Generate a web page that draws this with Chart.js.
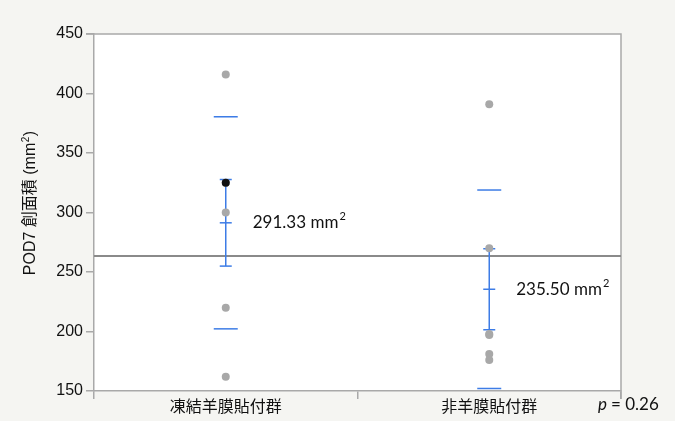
<!DOCTYPE html>
<html>
<head>
<meta charset="utf-8">
<script src="https://cdn.jsdelivr.net/npm/chart.js@4/dist/chart.umd.min.js"></script>
<style>
  html, body { margin: 0; padding: 0; background: #f5f5f2; }
  #wrap { width: 675px; height: 421px; }
</style>
</head>
<body>
<div id="wrap"><canvas id="c" width="675" height="421"></canvas></div>
<script>
// Groups and POD7 wound area values (mm²)
const categories = ['凍結羊膜貼付群', '非羊膜貼付群'];
const frozenAmnion = [416, 325, 300, 220, 162, 325];   // last entry is the highlighted row
const noAmnion = [391, 270, 198, 197, 181, 176];
const yRange = [150, 450];
const yStep = 50;
const pValueText = '0.26';
const highlightIndex = 5;

const groups = [frozenAmnion, noAmnion];

function mean(a) { return a.reduce((s, v) => s + v, 0) / a.length; }
function sd(a) {
  const m = mean(a);
  return Math.sqrt(a.reduce((s, v) => s + (v - m) * (v - m), 0) / (a.length - 1));
}
const grandMean = mean(groups.flat());

const BLUE = '#3d7ce6';
const AXIS = '#a9a9a9';
const NUM_FONT = '"Liberation Sans", Arial, sans-serif';
const LABEL_FONT = 'Lato, "Open Sans", sans-serif';

const backdrop = {
  id: 'backdrop',
  beforeDraw(chart) {
    const { ctx, chartArea: a } = chart;
    ctx.save();
    ctx.fillStyle = '#f5f5f2';
    ctx.fillRect(0, 0, chart.width, chart.height);
    ctx.fillStyle = '#ffffff';
    ctx.fillRect(a.left, a.top, a.right - a.left, a.bottom - a.top);
    ctx.restore();
  }
};

// Grand mean line, std-dev lines and mean error bars
const summaryMarks = {
  id: 'summaryMarks',
  beforeDatasetsDraw(chart) {
    const { ctx, chartArea: a, scales: { x, y } } = chart;
    ctx.save();
    // plot frame (top and right)
    ctx.strokeStyle = AXIS;
    ctx.lineWidth = 1.5;
    ctx.beginPath();
    ctx.moveTo(a.left, a.top);
    ctx.lineTo(a.right, a.top);
    ctx.lineTo(a.right, a.bottom + 8);
    ctx.stroke();
    // extend top edge past the axis like a tick
    ctx.beginPath();
    ctx.moveTo(a.left - 8, a.top);
    ctx.lineTo(a.left, a.top);
    ctx.stroke();

    // grand mean
    const gy = y.getPixelForValue(grandMean);
    ctx.strokeStyle = '#8a8a8a';
    ctx.lineWidth = 2;
    ctx.beginPath();
    ctx.moveTo(a.left, gy);
    ctx.lineTo(a.right, gy);
    ctx.stroke();

    ctx.strokeStyle = BLUE;
    ctx.lineWidth = 1.5;
    groups.forEach((vals, i) => {
      const cx = x.getPixelForValue(i);
      const m = mean(vals);
      const s = sd(vals);
      const se = s / Math.sqrt(vals.length);
      const seg = (v, half) => {
        const py = y.getPixelForValue(v);
        ctx.beginPath();
        ctx.moveTo(cx - half, py);
        ctx.lineTo(cx + half, py);
        ctx.stroke();
      };
      seg(m + s, 12);
      seg(m - s, 12);
      ctx.beginPath();
      ctx.moveTo(cx, y.getPixelForValue(m + se));
      ctx.lineTo(cx, y.getPixelForValue(m - se));
      ctx.stroke();
      seg(m + se, 6);
      seg(m - se, 6);
      seg(m, 6);
    });
    ctx.restore();
  },
  afterDraw(chart) {
    const { ctx, chartArea: a, scales: { x, y } } = chart;
    ctx.save();
    ctx.fillStyle = '#111';
    ctx.textBaseline = 'middle';
    ctx.textAlign = 'left';
    const labelOffsets = [27, 27];
    groups.forEach((vals, i) => {
      const m = mean(vals);
      const px = x.getPixelForValue(i) + labelOffsets[i];
      const py = y.getPixelForValue(m);
      ctx.font = '17px ' + LABEL_FONT;
      const t = m.toFixed(2) + ' mm';
      ctx.fillText(t, px, py);
      const w = ctx.measureText(t).width;
      ctx.font = '11px ' + LABEL_FONT;
      ctx.fillText('2', px + w + 1, py - 6);
    });
    // p value
    const baseY = 405;
    let px = 598;
    ctx.font = 'italic 17px ' + LABEL_FONT;
    ctx.fillText('p', px, baseY);
    px += ctx.measureText('p ').width;
    ctx.font = '17px ' + LABEL_FONT;
    ctx.fillText('= ' + pValueText, px, baseY);

    // y axis title
    ctx.translate(31, 203);
    ctx.rotate(-Math.PI / 2);
    ctx.textAlign = 'left';
    ctx.font = '16px "Liberation Sans", "Noto Sans CJK JP", sans-serif';
    const main = 'POD7 創面積 (mm';
    const mw = ctx.measureText(main).width;
    const tail = ')';
    ctx.font = '10px "Liberation Sans", sans-serif';
    const sw = ctx.measureText('2').width;
    ctx.font = '16px "Liberation Sans", "Noto Sans CJK JP", sans-serif';
    const tw = ctx.measureText(tail).width;
    const total = mw + sw + tw + 1;
    let tx = -total / 2;
    ctx.fillText(main, tx, 0);
    ctx.font = '10px "Liberation Sans", sans-serif';
    ctx.fillText('2', tx + mw + 0.5, -5);
    ctx.font = '16px "Liberation Sans", "Noto Sans CJK JP", sans-serif';
    ctx.fillText(tail, tx + mw + sw + 1, 0);
    ctx.restore();
  }
};

const points = groups.map((vals, gi) => vals.map(v => ({ x: categories[gi], y: v })));

new Chart(document.getElementById('c'), {
  type: 'line',
  data: {
    labels: categories,
    datasets: [
      {
        data: points[0],
        showLine: false,
        pointRadius: 4,
        pointHoverRadius: 4,
        pointBorderWidth: 0,
        pointBackgroundColor: ctx => ctx.dataIndex === highlightIndex ? '#111111' : '#a8a8a8',
        pointBorderColor: 'rgba(0,0,0,0)'
      },
      {
        data: points[1],
        showLine: false,
        pointRadius: 4,
        pointHoverRadius: 4,
        pointBorderWidth: 0,
        pointBackgroundColor: '#a8a8a8',
        pointBorderColor: 'rgba(0,0,0,0)'
      }
    ]
  },
  options: {
    responsive: false,
    animation: false,
    events: [],
    layout: { padding: { top: 34, right: 54, left: 0, bottom: 0 } },
    plugins: { legend: { display: false }, tooltip: { enabled: false } },
    scales: {
      x: {
        type: 'category',
        offset: true,
        afterFit: s => { s.height = 30; },
        grid: { offset: true, drawOnChartArea: false, drawTicks: true, tickLength: 8, color: AXIS, lineWidth: 1.5 },
        border: { display: true, color: AXIS, width: 1.5 },
        ticks: {
          color: '#111',
          padding: -3,
          font: { family: '"Noto Sans CJK JP", sans-serif', size: 16 }
        }
      },
      y: {
        min: yRange[0],
        max: yRange[1],
        afterFit: s => { s.width = 94; },
        grid: { drawOnChartArea: false, drawTicks: true, tickLength: 8, color: AXIS, lineWidth: 1.5 },
        border: { display: true, color: AXIS, width: 1.5 },
        ticks: {
          stepSize: yStep,
          color: '#111',
          padding: 3,
          font: { family: NUM_FONT, size: 16 }
        }
      }
    }
  },
  plugins: [backdrop, summaryMarks]
});
</script>
</body>
</html>
